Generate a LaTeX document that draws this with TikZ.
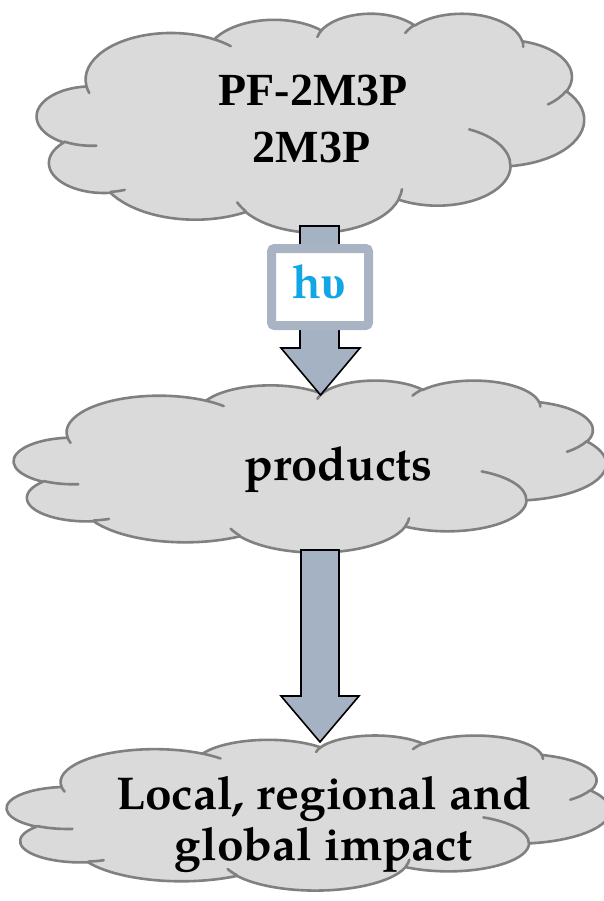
\documentclass[tikz,border=0pt]{standalone}
\usepackage{fontspec}
\newfontfamily\tms{Liberation Serif}
\newfontfamily\pal[Extension=.otf,UprightFont=*-regular,BoldFont=*-bold]{texgyrepagella}
\newfontfamily\palw[Extension=.otf,UprightFont=*-regular,BoldFont=*-bold,FakeStretch=1.04]{texgyrepagella}
\usetikzlibrary{calc}
\definecolor{cloudfill}{HTML}{DADADA}
\definecolor{cloudline}{HTML}{808080}
\definecolor{arrowfill}{HTML}{A4B2C3}
\definecolor{boxline}{HTML}{A8B4C4}
\definecolor{hvcol}{HTML}{12A6E6}
\tikzset{
  cloudshape/.style={fill=cloudfill,draw=cloudline,line width=2.6pt,line join=round},
  cloudinner/.style={draw=cloudline,line width=2.6pt,line cap=round},
  blockarrow/.style={fill=arrowfill,draw=black,line width=1.6pt,line join=miter},
  hvbox/.style={draw=boxline,fill=white,line width=9pt,rounded corners=3pt,minimum width=97pt,minimum height=77pt,inner sep=0pt},
  cloudtext/.style={align=center,inner sep=0pt,text=black}
}
% arc of an ellipse given by visual start angle and sweep (OOXML arcTo)
\newcommand\carc[4]{\pgfextra{%
  \pgfmathsetmacro\cTa{atan2((#1)*sin(#3),(#2)*cos(#3))}%
  \pgfmathsetmacro\cTb{atan2((#1)*sin((#3)+(#4)),(#2)*cos((#3)+(#4)))}%
  \pgfmathsetmacro\cTd{mod(\cTb-\cTa+720,360)}%
  \xdef\cTa{\cTa}\xdef\cTd{\cTd}}%
  arc[start angle=\cTa, delta angle=\cTd, x radius=#1, y radius=#2]}
\newcommand\drawcloud[4]{%
  \begin{scope}[shift={(#1,#2)},xscale=#3/43.2,yscale=#4/43.2]
    \path[cloudshape] (3.900,14.370)
      \carc{6.753}{9.190}{-190.48748}{123.78053}
      \carc{5.333}{7.267}{-144.10238}{89.94523}
      \carc{4.365}{5.945}{-145.80792}{99.72302}
      \carc{4.857}{6.595}{-130.98607}{117.24173}
      \carc{5.333}{7.273}{-78.70888}{109.02692}
      \carc{6.775}{9.220}{-46.26725}{130.269}
      \carc{5.785}{7.867}{0.62502}{114.03333}
      \carc{6.752}{9.215}{22.4516}{115.17255}
      \carc{7.720}{10.543}{66.24263}{75.71102}
      \carc{4.360}{5.918}{-274.94208}{146.73557}
      \carc{4.345}{5.945}{-246.8285}{152.51885}
      -- cycle;
    \path[cloudinner]
      (4.693,26.177) \carc{4.345}{5.945}{86.742}{26.4295}
      (6.928,34.899) \carc{4.360}{5.918}{73.61047}{11.44747}
      (16.478,39.090) \carc{6.752}{9.215}{137.62415}{14.0811}
      (28.827,34.751) \carc{6.752}{9.215}{6.45327}{15.99835}
      (34.129,22.954) \carc{5.785}{7.867}{-70.29235}{70.91737}
      (41.798,15.354) \carc{5.333}{7.273}{30.31803}{27.7515}
      (38.324,5.426) \carc{4.857}{6.595}{-13.74433}{14.8589}
      (29.078,3.952) \carc{4.857}{6.595}{-149.18145}{18.19537}
      (22.141,4.720) \carc{4.365}{5.945}{-163.49427}{17.68635}
      (14.000,5.192) \carc{6.753}{9.190}{-66.70695}{12.31935}
      (4.127,15.789) \carc{6.753}{9.190}{157.65435}{11.85817};
  \end{scope}}
\begin{document}
\begin{tikzpicture}[x=1pt,y=-1pt]
\useasboundingbox (0,0) rectangle (604,901);
% clouds
\drawcloud{37}{13}{547}{219}
\drawcloud{14}{380}{592}{172}
\drawcloud{7}{735}{603}{155}
% texts
\node[cloudtext,anchor=base] (top1) at (313,106) {\tms\bfseries\fontsize{46}{55}\selectfont PF-2M3P};
\node[cloudtext,anchor=base] (top2) at (311.5,163) {\tms\bfseries\fontsize{46}{55}\selectfont 2M3P};
\node[cloudtext,anchor=base] (mid) at (338.5,480) {\pal\bfseries\fontsize{47}{52}\selectfont products};
\node[cloudtext,anchor=base] (bot1) at (324,809) {\palw\bfseries\fontsize{46}{52}\selectfont Local, regional and};
\node[cloudtext,anchor=base] (bot2) at (323.5,860) {\palw\bfseries\fontsize{46}{52}\selectfont global impact};
% arrow ends
\coordinate (a1s) at (319.5,226);
\coordinate (a1e) at (320.5,395);
\coordinate (a2s) at (320,550);
\coordinate (a2e) at (320,742);
% block arrows
\draw[blockarrow] ($(a1s)+(-19.5,0)$) -- ($(a1e)+(-20.5,-47)$) -- ($(a1e)+(-39.5,-47)$) -- (a1e)
  -- ($(a1e)+(39.5,-47)$) -- ($(a1e)+(18.5,-47)$) -- ($(a1s)+(19.5,0)$) -- cycle;
\draw[blockarrow] ($(a2s)+(-19,0)$) -- ($(a2e)+(-19,-46)$) -- ($(a2e)+(-39,-46)$) -- (a2e)
  -- ($(a2e)+(39,-46)$) -- ($(a2e)+(19,-46)$) -- ($(a2s)+(19,0)$) -- cycle;
% h nu box
\node[hvbox] (hv) at (320,287) {};
\node[cloudtext,anchor=base] (hvtext) at (319,298) {\textcolor{hvcol}{\fontsize{47}{52}\selectfont\pal\bfseries h\tms\bfseries υ}};
\end{tikzpicture}
\end{document}
